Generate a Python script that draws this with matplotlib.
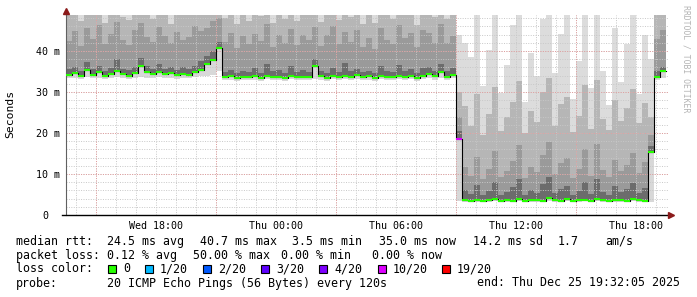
import numpy as np
import matplotlib.pyplot as plt
from matplotlib.patches import Rectangle
from matplotlib.transforms import ScaledTranslation

# SmokePing style latency graph, one sample every 18 minutes.
# time is in hours counted from Wed 00:00
t_start = 13.5
t_step = 0.3

# median rtt per sample (ms)
med = [
    34.2, 34.6, 33.9, 35.3, 34.1, 34.8, 34.0, 34.5, 35.0, 34.3,
    34.0, 34.6, 36.4, 34.9, 34.4, 34.8, 34.3, 34.7, 34.1, 34.5,
    34.2, 34.8, 35.4, 36.8, 37.9, 40.7, 33.6, 33.8, 33.5, 33.7,
    33.6, 33.8, 33.5, 33.9, 33.6, 33.7, 33.5, 33.8, 33.6, 33.7,
    33.6, 36.4, 33.8, 33.5, 33.9, 33.6, 33.8, 33.7, 34.1, 33.6,
    33.8, 33.5, 33.9, 33.7, 33.6, 34.0, 33.7, 33.8, 33.5, 33.9,
    34.3, 33.8, 34.9, 33.7, 34.2, 18.5, 3.6, 3.5, 3.7, 3.5,
    3.6, 3.8, 3.5, 3.6, 3.5, 3.9, 3.5, 3.7, 3.6, 3.5,
    4.2, 3.6, 3.5, 3.8, 3.5, 3.6, 3.7, 3.5, 4.0, 3.6,
    3.5, 3.7, 3.6, 3.5, 3.8, 3.6, 3.5, 15.4, 33.6, 35.0,
]

# fastest ping per sample (ms)
lo = [
    33.3, 33.5, 33.2, 33.6, 33.3, 33.4, 33.2, 33.5, 33.6, 33.4,
    33.2, 33.5, 33.6, 33.5, 33.3, 33.6, 33.4, 33.5, 33.2, 33.4,
    33.3, 33.6, 33.8, 33.9, 34.2, 35.1, 32.9, 33.0, 32.8, 33.0,
    32.9, 33.0, 32.8, 33.1, 32.9, 33.0, 32.8, 33.1, 32.9, 33.0,
    32.9, 33.2, 33.0, 32.8, 33.1, 32.9, 33.1, 33.0, 33.2, 32.9,
    33.0, 32.8, 33.1, 33.0, 32.9, 33.2, 33.0, 33.1, 32.8, 33.1,
    33.4, 33.0, 33.5, 33.0, 33.3, 3.3, 3.2, 3.1, 3.2, 3.1,
    3.2, 3.3, 3.1, 3.2, 3.1, 3.3, 3.1, 3.2, 3.2, 3.1,
    3.4, 3.2, 3.1, 3.3, 3.1, 3.2, 3.3, 3.1, 3.4, 3.2,
    3.1, 3.2, 3.2, 3.1, 3.3, 3.2, 3.1, 3.2, 32.9, 33.4,
]

# upper smoke: 65th, 80th, 90th percentile and slowest ping (ms)
p65 = [
    35.6, 36.2, 35.1, 37.4, 35.5, 36.3, 35.2, 35.9, 38.0, 35.6,
    35.3, 36.0, 38.3, 36.4, 35.7, 36.8, 35.5, 36.2, 35.4, 36.0,
    35.6, 36.4, 37.6, 38.9, 40.0, 42.2, 34.8, 35.4, 34.6, 35.1,
    34.9, 35.8, 34.7, 36.9, 35.0, 35.4, 34.6, 36.3, 34.9, 35.3,
    34.8, 38.0, 35.2, 34.7, 35.9, 34.9, 37.1, 35.1, 35.7, 34.8,
    35.2, 34.6, 36.4, 35.0, 34.9, 36.6, 35.1, 35.6, 34.7, 35.9,
    36.0, 35.2, 36.9, 35.1, 35.8, 20.5, 6.2, 5.1, 7.4, 4.8,
    5.9, 8.0, 4.9, 5.6, 6.8, 8.7, 5.0, 6.1, 5.4, 7.6,
    9.2, 5.3, 6.4, 7.1, 4.8, 5.9, 8.1, 5.1, 8.9, 5.7,
    4.9, 7.0, 5.5, 6.3, 7.8, 5.3, 6.6, 16.8, 35.0, 36.2,
]
p80 = [
    42.5, 44.8, 41.2, 45.6, 43.0, 46.3, 41.8, 44.1, 47.0, 42.6,
    41.5, 45.2, 46.8, 43.4, 42.1, 45.9, 43.7, 41.9, 44.6, 42.8,
    43.5, 46.1, 44.9, 45.7, 47.3, 48.0, 42.2, 44.5, 40.8, 43.6,
    41.7, 44.2, 42.4, 46.5, 40.9, 43.8, 42.0, 45.3, 41.4, 44.0,
    42.6, 45.8, 41.2, 43.9, 46.0, 41.6, 44.7, 42.3, 45.1, 41.0,
    43.2, 40.6, 45.5, 42.8, 41.8, 46.4, 43.1, 44.3, 40.9, 45.0,
    44.4, 42.0, 46.6, 41.9, 43.7, 24.0, 11.8, 9.6, 14.2, 8.7,
    11.3, 15.6, 9.2, 10.8, 13.1, 17.0, 9.0, 11.7, 10.4, 14.6,
    17.8, 10.1, 12.6, 13.9, 9.1, 11.2, 16.2, 9.6, 17.3, 11.0,
    9.3, 13.3, 10.7, 12.2, 15.0, 10.3, 12.9, 19.5, 43.0, 45.2,
]
p90 = [
    52.0, 50.5, 47.2, 53.0, 49.5, 51.8, 46.9, 50.2, 54.0, 48.3,
    47.5, 52.6, 53.5, 49.1, 47.8, 52.3, 50.4, 46.6, 51.7, 49.0,
    50.8, 53.2, 51.5, 52.8, 54.1, 55.0, 48.0, 51.2, 46.5, 50.1,
    47.4, 51.0, 48.6, 53.4, 46.8, 50.5, 47.9, 52.1, 47.2, 50.7,
    49.3, 52.7, 47.0, 50.9, 53.1, 47.6, 51.5, 48.4, 52.4, 46.7,
    50.2, 46.9, 52.8, 48.9, 47.7, 53.6, 49.8, 51.4, 46.4, 52.0,
    51.6, 48.2, 53.9, 47.8, 50.6, 30.0, 26.5, 21.8, 29.4, 19.6,
    24.7, 31.2, 20.5, 23.9, 27.6, 32.8, 19.9, 25.3, 22.6, 30.1,
    33.5, 21.7, 27.0, 28.8, 20.2, 24.1, 31.6, 21.0, 32.9, 23.5,
    20.8, 28.1, 23.0, 26.2, 30.7, 22.4, 27.3, 24.0, 50.5, 52.5,
]
pmax = [
    60.0, 60.0, 60.0, 60.0, 60.0, 60.0, 60.0, 60.0, 60.0, 60.0,
    60.0, 60.0, 60.0, 60.0, 60.0, 60.0, 60.0, 60.0, 60.0, 60.0,
    60.0, 60.0, 60.0, 60.0, 60.0, 60.0, 60.0, 60.0, 60.0, 60.0,
    60.0, 60.0, 60.0, 60.0, 60.0, 60.0, 60.0, 60.0, 60.0, 60.0,
    60.0, 60.0, 60.0, 60.0, 60.0, 60.0, 60.0, 60.0, 60.0, 60.0,
    60.0, 60.0, 60.0, 60.0, 60.0, 60.0, 60.0, 60.0, 60.0, 60.0,
    60.0, 60.0, 60.0, 60.0, 60.0, 44.0, 42.0, 38.5, 55.0, 31.5,
    40.2, 55.0, 29.8, 36.7, 46.3, 55.0, 27.5, 39.4, 33.8, 47.9,
    55.0, 34.6, 44.1, 49.0, 28.3, 37.5, 55.0, 30.9, 52.0, 35.2,
    26.8, 45.6, 32.4, 41.7, 55.0, 29.6, 43.8, 38.0, 60.0, 60.0,
]

# pings lost out of 20 per sample
lost = [
    0, 0, 0, 0, 0, 0, 0, 0, 0, 0,
    0, 0, 0, 0, 0, 0, 0, 0, 0, 0,
    0, 0, 0, 0, 0, 0, 0, 0, 0, 0,
    0, 0, 0, 0, 0, 0, 0, 0, 0, 0,
    0, 0, 0, 0, 0, 0, 0, 0, 0, 0,
    0, 0, 0, 0, 0, 0, 0, 0, 0, 0,
    0, 0, 0, 0, 0, 10, 0, 0, 0, 0,
    0, 0, 0, 0, 0, 0, 0, 0, 0, 0,
    0, 0, 0, 0, 0, 0, 0, 0, 0, 0,
    0, 0, 0, 0, 0, 0, 0, 0, 0, 0,
]

loss_levels = [0, 1, 2, 3, 4, 10, 19]
loss_labels = ['0', '1/20', '2/20', '3/20', '4/20', '10/20', '19/20']
loss_colors = ['#26ff00', '#00b8ff', '#0059ff', '#5e00ff', '#7e00ff', '#dd00ff', '#ff0000']

x_tick_hours = [18, 24, 30, 36, 42]
x_tick_labels = ['Wed 18:00', 'Thu 00:00', 'Thu 06:00', 'Thu 12:00', 'Thu 18:00']
y_ticks = [0, 10, 20, 30, 40]
y_tick_labels = ['0', '10 m', '20 m', '30 m', '40 m']

stats_lines = [
    ['median rtt:', '24.5 ms avg', '40.7 ms max', '3.5 ms min', '35.0 ms now', '14.2 ms sd', '1.7', 'am/s'],
    ['packet loss:', '0.12 % avg', '50.00 % max', '0.00 % min', '0.00 % now'],
]
probe_text = '20 ICMP Echo Pings (56 Bytes) every 120s'
end_text = 'end: Thu Dec 25 19:32:05 2025'

W, H = 697, 297
MONO = 'DejaVu Sans Mono'


def px(x, y):
    """pixel position (from top left) to figure fraction"""
    return x / W, 1 - y / H


fig = plt.figure(figsize=(W / 100, H / 100), dpi=100, facecolor='white')
ax = fig.add_axes([66 / W, 82 / H, 603 / W, 200 / H])

edges = t_start + t_step * np.arange(len(med) + 1)


def stepped(values):
    return np.append(values, values[-1])


# smoke, lightest outside, darkest next to the median
bands = [
    (lo, med, '#d8d8d8'),
    (med, p65, '#6c6c6c'),
    (p65, p80, '#9a9a9a'),
    (p80, p90, '#b6b6b6'),
    (p90, pmax, '#dcdcdc'),
]
for lower, upper, shade in bands:
    ax.fill_between(edges, stepped(lower), stepped(upper), step='post',
                    color=shade, lw=0, antialiased=False, zorder=1)

# grid on top of the smoke, like rrdtool
for h in range(14, 44):
    ax.axvline(h, color='#c8c8c8', lw=0.7, ls=(0, (1, 1.5)), zorder=2)
for v in range(2, 50, 2):
    ax.axhline(v, color='#c8c8c8', lw=0.7, ls=(0, (1, 1.5)), zorder=2)
for h in [15, 21, 27, 33, 39]:
    ax.axvline(h, color='#e39c9c', lw=0.7, ls=(0, (1, 1.5)), zorder=2)
for v in [10, 20, 30, 40]:
    ax.axhline(v, color='#e39c9c', lw=0.7, ls=(0, (1, 1.5)), zorder=2)

# median line, coloured by loss
ax.step(edges, stepped(med), where='post', color='black', lw=0.8, zorder=3)
seg_colors = [loss_colors[max(i for i, lv in enumerate(loss_levels) if lv <= n)] for n in lost]
ax.hlines(med, edges[:-1], edges[1:], colors=seg_colors, lw=1.5, zorder=4)

ax.set_xlim(t_start, t_start + 603 / 20)
ax.set_ylim(0, 200 / 4.1)
ax.set_facecolor('white')

for side in ['top', 'right']:
    ax.spines[side].set_visible(False)
ax.spines['left'].set_color('#606060')
ax.spines['left'].set_linewidth(0.8)
ax.spines['bottom'].set_visible(False)

# axis lines with the little red arrows
ax.plot([-4 / 603, 1.0], [0, 0], color='black', lw=1.0, transform=ax.transAxes, clip_on=False, zorder=5)
ax.plot([0, 0], [1.0, 1.02], color='#606060', lw=0.8, transform=ax.transAxes, clip_on=False, zorder=5)
ax.plot([1.0 + 2 / 603], [0], marker='>', color='#8b1a1a', ms=4.5, transform=ax.transAxes, clip_on=False, zorder=6)
ax.plot([0], [1.0 + 4 / 200], marker='^', color='#8b1a1a', ms=4.5, transform=ax.transAxes, clip_on=False, zorder=6)

ax.set_xticks(x_tick_hours, x_tick_labels, fontfamily=MONO, fontsize=7.2)
ax.set_yticks(y_ticks, y_tick_labels, fontfamily=MONO, fontsize=7.2)
ax.tick_params(axis='both', length=0)
ax.tick_params(axis='x', pad=4.5)
ax.tick_params(axis='y', pad=4.3)
# rrdtool leaves the unit gap after the zero label
zero_label = ax.get_yticklabels()[0]
zero_label.set_transform(zero_label.get_transform() + ScaledTranslation(-0.12, 0, fig.dpi_scale_trans))

fig.text(*px(10.5, 114), 'Seconds', rotation=90, ha='center', va='center', fontfamily=MONO, fontsize=8.2)
fig.text(*px(686, 5), 'RRDTOOL / TOBI OETIKER', rotation=270, ha='center', va='top',
         fontfamily=MONO, fontsize=5.9, color='#b4b4b4')

# legend / statistics below the graph
stat_x = [
    [16, 107, 200, 292, 379, 472.7, 558, 605],
    [16, 107, 193, 281, 372],
]
for row, (parts, xs) in enumerate(zip(stats_lines, stat_x)):
    y = 241.5 + 14 * row
    for part, x in zip(parts, xs):
        fig.text(*px(x, y), part, ha='left', va='center', fontfamily=MONO, fontsize=8.4)

fig.text(*px(16, 269), 'loss color:', ha='left', va='center', fontfamily=MONO, fontsize=8.4)
box_x = [108, 145, 203, 261, 319, 378, 442]
for bx, label, colr in zip(box_x, loss_labels, loss_colors):
    fig.add_artist(Rectangle(px(bx, 273), 8 / W, 8 / H, transform=fig.transFigure,
                             facecolor=colr, edgecolor='black', lw=0.8))
    fig.text(*px(bx + 15, 269), label, ha='left', va='center', fontfamily=MONO, fontsize=8.4)

fig.text(*px(16, 283), 'probe:', ha='left', va='center', fontfamily=MONO, fontsize=8.4)
fig.text(*px(107, 283), probe_text, ha='left', va='center', fontfamily=MONO, fontsize=8.4)
fig.text(*px(680, 283), end_text, ha='right', va='center', fontfamily=MONO, fontsize=8.4)

fig.savefig('out.png', dpi=100, facecolor='white')
plt.close(fig)
